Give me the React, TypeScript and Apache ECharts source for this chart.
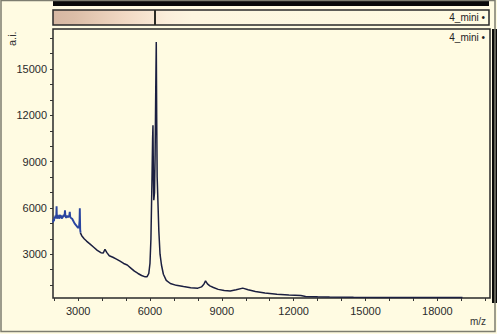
import React, { useEffect, useRef } from "react";
import * as echarts from "echarts";

const xTickLabels = [3000, 6000, 9000, 12000, 15000, 18000];
const yTickLabels = [3000, 6000, 9000, 12000, 15000];
const xMinorTicks = [2000, 3000, 4000, 5000, 6000, 7000, 8000, 9000, 10000, 11000, 12000, 13000, 14000, 15000, 16000, 17000, 18000, 19000, 20000];
const yMinorTicks = [1000, 2000, 3000, 4000, 5000, 6000, 7000, 8000, 9000, 10000, 11000, 12000, 13000, 14000, 15000, 16000, 17000];

const noisyMass = [1950, 1970, 1990, 2010, 2030, 2050, 2070, 2090, 2100, 2110, 2130, 2150, 2170, 2190, 2210, 2230, 2250, 2270, 2290, 2310, 2330, 2350, 2370, 2400, 2430, 2450, 2470, 2500, 2530, 2560, 2600, 2630, 2650, 2670, 2700, 2750, 2800, 2850, 2900, 2950, 3000, 3040, 3060, 3070, 3085, 3100];
const noisyIntensity = [5050, 5250, 5150, 5400, 5300, 5500, 5350, 5600, 6100, 5400, 5300, 5550, 5350, 5500, 5300, 5450, 5550, 5350, 5500, 5400, 5300, 5500, 5400, 5550, 5450, 5850, 5450, 5350, 5500, 5400, 5450, 5500, 5750, 5400, 5350, 5300, 5150, 5000, 4900, 4800, 4700, 4800, 5200, 5980, 4600, 4400];

const mainMass = [3090, 3150, 3250, 3350, 3500, 3650, 3800, 3950, 4050, 4120, 4200, 4300, 4450, 4600, 4750, 4900, 5050, 5200, 5350, 5500, 5650, 5800, 5880, 5950, 6000, 6040, 6080, 6110, 6125, 6140, 6160, 6190, 6215, 6240, 6263, 6280, 6300, 6330, 6370, 6420, 6480, 6560, 6680, 6850, 7100, 7400, 7700, 8000, 8150, 8250, 8320, 8400, 8500, 8650, 8850, 9100, 9350, 9600, 9875, 10100, 10400, 10800, 11300, 11800, 12300, 12500, 13000, 13500, 14500, 15500, 16500, 17500, 18500, 19050];
const mainIntensity = [4400, 4200, 4000, 3850, 3650, 3450, 3250, 3100, 3080, 3320, 3100, 2900, 2800, 2680, 2550, 2400, 2300, 2100, 1900, 1750, 1620, 1530, 1540, 1750, 2400, 4000, 7500, 10500, 11360, 8500, 6500, 7000, 9500, 13500, 16760, 12000, 8000, 6500, 4500, 3000, 2300, 1700, 1300, 1100, 980, 900, 830, 800, 880, 1050, 1270, 1080, 950, 840, 720, 640, 620, 690, 800, 700, 580, 480, 400, 350, 320, 260, 235, 220, 205, 200, 195, 192, 188, 185];

const legendName = "4_mini";

export default function App() {
  const ref = useRef<HTMLDivElement>(null);
  useEffect(() => {
    document.body.style.margin = "0";
    const chart = echarts.init(ref.current!, null, { renderer: "svg" });
    const bg = "#FFFBE2";
    const font = "Liberation Sans, Arial";
    chart.setOption({
      animation: false,
      backgroundColor: bg,
      grid: { left: 53, top: 29, width: 437, height: 269, show: true, borderColor: "#2a2a2a", borderWidth: 1.5, backgroundColor: "transparent" },
      xAxis: {
        type: "value",
        min: 1950,
        max: 20200,
        axisLine: { show: false },
        splitLine: { show: false },
        axisTick: { show: true, customValues: xMinorTicks, length: 3, lineStyle: { color: "#333" } },
        axisLabel: { customValues: xTickLabels, formatter: (v: number) => String(v), color: "#2a2a2a", fontSize: 11, fontFamily: font, margin: 7 },
      },
      yAxis: {
        type: "value",
        min: 160,
        max: 17600,
        axisLine: { show: false },
        splitLine: { show: false },
        axisTick: { show: true, customValues: yMinorTicks, length: 3, lineStyle: { color: "#333" } },
        axisLabel: { customValues: yTickLabels, formatter: (v: number) => String(v), color: "#2a2a2a", fontSize: 11, fontFamily: font, margin: 6 },
      },
      series: [
        {
          type: "line",
          name: legendName,
          data: mainMass.map((m, i) => [m, mainIntensity[i]]),
          showSymbol: false,
          lineStyle: { color: "#1b1f40", width: 1.5 },
          z: 3,
        },
        {
          type: "line",
          name: legendName + "_noise",
          data: noisyMass.map((m, i) => [m, noisyIntensity[i]]),
          showSymbol: false,
          lineStyle: { color: "#2a45a0", width: 1.9 },
          z: 3,
        },
      ],
      graphic: [
        { type: "rect", shape: { x: 1, y: 0.5, width: 494, height: 331 }, style: { fill: "none", stroke: "#7d7d70", lineWidth: 1.5 }, z: 10 },
        { type: "rect", shape: { x: 53, y: 0, width: 436, height: 6 }, style: { fill: "#0a0a0a" } },
        {
          type: "rect",
          shape: { x: 53, y: 10, width: 436, height: 15 },
          style: {
            fill: new echarts.graphic.LinearGradient(0, 0, 1, 0, [
              { offset: 0, color: "#d6b7a2" },
              { offset: 0.05, color: "#dcbea8" },
              { offset: 0.1, color: "#e6cab4" },
              { offset: 0.16, color: "#f0d8c3" },
              { offset: 0.22, color: "#f7e5d1" },
              { offset: 0.26, color: "#fbeedb" },
              { offset: 0.32, color: "#fdf6e0" },
              { offset: 1, color: bg },
            ]),
            stroke: "#2a2a2a",
            lineWidth: 1.5,
          },
        },
        { type: "rect", shape: { x: 154, y: 10, width: 2, height: 15 }, style: { fill: "#2b2a25" } },
        { type: "text", right: 12, top: 12, style: { text: legendName + " \u2022", fill: "#222", fontSize: 10, fontFamily: font } },
        { type: "text", right: 12, top: 32, style: { text: legendName + " \u2022", fill: "#222", fontSize: 10, fontFamily: font } },
        { type: "rect", shape: { x: 492, y: 29, width: 5, height: 274 }, style: { fill: "#0a0a0a" } },
        { type: "text", x: 6, y: 46, rotation: Math.PI / 2, style: { text: "a.i.", fill: "#333", fontSize: 11, fontFamily: font } },
        { type: "text", x: 470, y: 316, style: { text: "m/z", fill: "#333", fontSize: 10, fontFamily: font } },
      ],
    });
    return () => chart.dispose();
  }, []);
  return <div ref={ref} style={{ width: 497, height: 334 }} />;
}
